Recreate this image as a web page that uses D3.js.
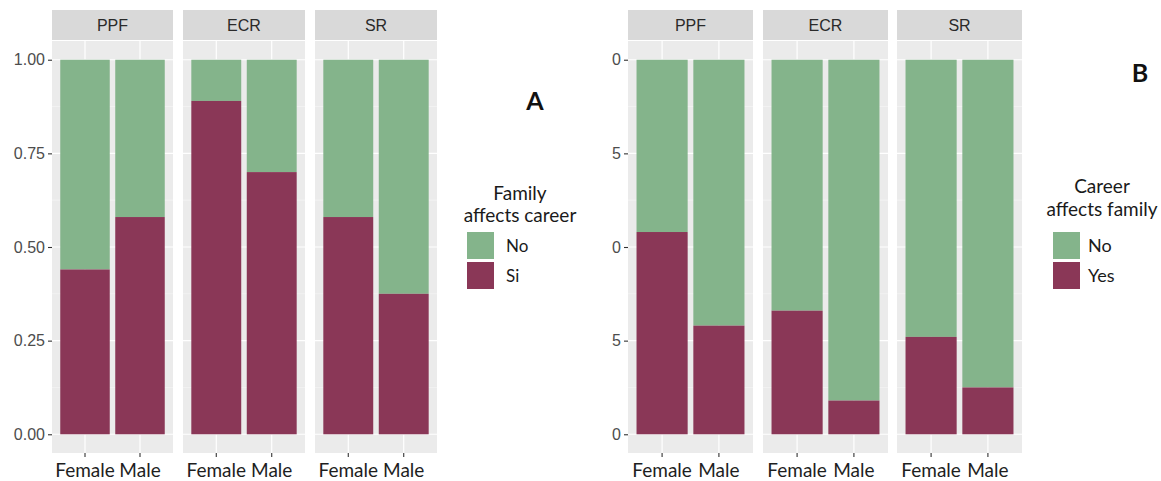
<!DOCTYPE html>
<html>
<head>
<meta charset="utf-8">
<script src="https://cdn.jsdelivr.net/npm/d3@7"></script>
<style>
  html, body { margin: 0; padding: 0; background: #ffffff; }
  svg { display: block; }
</style>
</head>
<body>
<svg id="chart" width="1161" height="481"></svg>
<script>
// Facets, groups and tick labels
const facets = ["PPF", "ECR", "SR"];
const sexes = ["Female", "Male"];
const yTicks = [0, 0.25, 0.5, 0.75, 1];
const yTickLabels = ["0.00", "0.25", "0.50", "0.75", "1.00"];

// Share answering yes, per facet (Female, Male); the rest is "No"
const familyAffectsCareerSi = [[0.44, 0.58], [0.89, 0.70], [0.58, 0.375]];
const careerAffectsFamilyYes = [[0.54, 0.29], [0.33, 0.09], [0.26, 0.125]];

const legendLevelsA = ["No", "Si"];
const legendLevelsB = ["No", "Yes"];

const colNo = "#84b48b";
const colYes = "#8a3757";

const svg = d3.select("#chart");

const yScale = d3.scaleLinear().domain([-0.05, 1.05]).range([453, 41]);
const minorTicks = [0.125, 0.375, 0.625, 0.875];

function drawFacetGrid(opts) {
  const g = svg.append("g");
  const xs = opts.panels;
  facets.forEach((facet, i) => {
    const [x0, x1] = xs[i];
    const xScale = d3.scaleBand().domain(sexes).range([x0, x1])
      .paddingInner(0.1).paddingOuter(0.15);

    // strip
    g.append("rect").attr("x", x0).attr("y", 10).attr("width", x1 - x0).attr("height", 30)
      .attr("fill", "#d9d9d9");
    g.append("text").attr("x", (x0 + x1) / 2).attr("y", 31)
      .attr("text-anchor", "middle").attr("font-family", "Liberation Sans, Arial, sans-serif")
      .attr("font-size", 16).attr("fill", "#2a2a2a").text(facet);

    // panel background
    g.append("rect").attr("x", x0).attr("y", 41).attr("width", x1 - x0).attr("height", 412)
      .attr("fill", "#ebebeb");
    minorTicks.forEach(t => g.append("line").attr("x1", x0).attr("x2", x1)
      .attr("y1", yScale(t)).attr("y2", yScale(t)).attr("stroke", "#f7f7f7").attr("stroke-width", 0.6));
    yTicks.forEach(t => g.append("line").attr("x1", x0).attr("x2", x1)
      .attr("y1", yScale(t)).attr("y2", yScale(t)).attr("stroke", "#ffffff").attr("stroke-width", 1.2));
    sexes.forEach(s => {
      const cx = xScale(s) + xScale.bandwidth() / 2;
      g.append("line").attr("x1", cx).attr("x2", cx).attr("y1", 41).attr("y2", 453)
        .attr("stroke", "#ffffff").attr("stroke-width", 1.2);
    });

    // stacked bars
    sexes.forEach((s, j) => {
      const v = opts.values[i][j];
      g.append("rect").attr("x", xScale(s)).attr("width", xScale.bandwidth())
        .attr("y", yScale(1)).attr("height", yScale(v) - yScale(1)).attr("fill", colNo);
      g.append("rect").attr("x", xScale(s)).attr("width", xScale.bandwidth())
        .attr("y", yScale(v)).attr("height", yScale(0) - yScale(v)).attr("fill", colYes);
    });

    // x axis
    const xAxis = d3.axisBottom(xScale).tickSize(4).tickPadding(3);
    const ax = g.append("g").attr("transform", `translate(0,453)`).call(xAxis);
    ax.select(".domain").remove();
    ax.selectAll(".tick line").attr("stroke", "#333333").attr("stroke-width", 1.1);
    ax.selectAll(".tick text").attr("font-family", "Lato, sans-serif").attr("font-size", 19)
      .attr("fill", "#1e1e1e").attr("dy", "0.9em");
  });

  // y axis on first panel
  const yAxis = d3.axisLeft(yScale).tickValues(yTicks)
    .tickFormat((d, k) => yTickLabels[k]).tickSize(4).tickPadding(3);
  const ay = g.append("g").attr("transform", `translate(${xs[0][0]},0)`).call(yAxis);
  ay.select(".domain").remove();
  ay.selectAll(".tick line").attr("stroke", "#333333").attr("stroke-width", 1.1);
  ay.selectAll(".tick text").attr("font-family", "Liberation Sans, Arial, sans-serif")
    .attr("font-size", 16).attr("fill", "#4d4d4d");
  if (opts.clipLeft !== undefined) {
    const id = "clipY" + opts.key;
    svg.append("defs").append("clipPath").attr("id", id).append("rect")
      .attr("x", opts.clipLeft - xs[0][0]).attr("y", 0).attr("width", 100).attr("height", 481);
    ay.attr("clip-path", `url(#${id})`);
  }

  // legend
  const L = opts.legend;
  const lg = svg.append("g").attr("font-family", "Lato, sans-serif").attr("fill", "#1a1a1a");
  L.title.forEach((line, k) => lg.append("text").attr("x", L.titleX).attr("y", L.titleY[k])
    .attr("text-anchor", "middle").attr("font-size", 19).text(line));
  L.levels.forEach((lev, k) => {
    lg.append("rect").attr("x", L.keyX).attr("y", 232 + k * 30).attr("width", 27).attr("height", 27)
      .attr("fill", k === 0 ? colNo : colYes);
    lg.append("text").attr("x", L.labelX).attr("y", 252 + k * 30).attr("font-size", L.labelSize).text(lev);
  });

  svg.append("text").attr("x", opts.tag.x).attr("y", opts.tag.y).attr("text-anchor", "middle")
    .attr("font-family", "Lato, sans-serif").attr("font-weight", "bold").attr("font-size", 25)
    .attr("fill", "#111111").text(opts.tag.text);
}

drawFacetGrid({
  key: "A",
  panels: [[52, 173], [183, 305], [315, 437]],
  values: familyAffectsCareerSi,
  legend: { title: ["Family", "affects career"], titleX: 520, titleY: [200, 222],
            levels: legendLevelsA, keyX: 467, labelX: 506, labelSize: 17 },
  tag: { text: "A", x: 535, y: 110 }
});

drawFacetGrid({
  key: "B",
  panels: [[628, 753], [763, 888], [897, 1022]],
  values: careerAffectsFamilyYes,
  clipLeft: 612,
  legend: { title: ["Career", "affects family"], titleX: 1102, titleY: [193, 216],
            levels: legendLevelsB, keyX: 1053, labelX: 1088, labelSize: 18 },
  tag: { text: "B", x: 1140, y: 82 }
});
</script>
</body>
</html>
